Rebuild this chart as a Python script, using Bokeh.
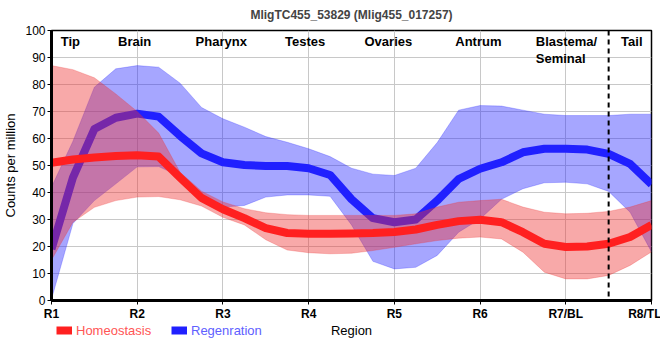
import numpy as np
from bokeh.plotting import figure
from bokeh.layouts import column
from bokeh.models import FixedTicker, Legend, LegendItem, Span, Range1d, Label
from bokeh.core.properties import value
from bokeh.embed import file_html
from bokeh.resources import INLINE

categories = ["R1", "R2", "R3", "R4", "R5", "R6", "R7/BL", "R8/TL"]
region_names = ["Tip", "Brain", "Pharynx", "Testes", "Ovaries", "Antrum", "Tail"]
region_x = [0.22, 0.97, 1.98, 2.96, 3.93, 4.98, 6.77]
region_multi = ["Blastema/\nSeminal"]
region_multi_x = [5.65]
boundary_x = 6.5

homeo_mean = [51, 52.2, 53, 53.5, 53.8, 53.3, 45.5, 38, 33.8, 30.5, 26.8, 25, 24.7, 24.7,
              24.8, 25, 25.4, 26.3, 28, 29.4, 29.9, 29, 25.3, 21, 19.8, 20, 21, 23.5, 28]
homeo_upper = [87, 85.5, 82.5, 76.5, 70, 62, 47.5, 40.5, 36.5, 34, 32.5, 31.8, 31.5, 31.5,
               31.5, 31.5, 31.5, 32.1, 34.6, 36.4, 37, 37.5, 34.6, 32.7, 32.1, 32.3, 33, 34.6, 37]
homeo_lower = [15, 29, 34.5, 37, 38.3, 38.5, 37.3, 35, 30.8, 28, 22.5, 18.7, 17.7, 17.3,
               17.5, 18.5, 19.7, 21, 22.2, 23.1, 23.5, 22.8, 17.9, 10.5, 8, 8, 9.3, 13, 18]

regen_mean = [19, 45.5, 63.5, 67.7, 69.2, 68.1, 61, 54.5, 51.2, 50.2, 49.8, 49.8, 49, 46.5,
              37.5, 30.5, 29, 30, 37, 45, 48.8, 51.2, 54.9, 56.2, 56.2, 55.9, 54.3, 50.6, 43]
regen_upper = [42, 59, 79, 85.8, 87, 86.4, 80.5, 71.5, 67.3, 64.2, 60.7, 58.6, 56.2, 53.3,
               49, 46.8, 46.3, 49, 58.5, 70.5, 72.2, 72, 70.5, 69, 68.5, 68.5, 68.5, 69, 69]
regen_lower = [0.5, 28.5, 37, 43.2, 49.5, 49.6, 46, 37, 34.6, 35.2, 38.3, 39.1, 39.1, 38.6,
               28, 14.5, 11.7, 12.3, 16.7, 25.3, 30.2, 37.5, 41.4, 43.6, 43.8, 43.2, 40.4, 32.7, 18]

series_names = ["Homeostasis", "Regenration"]

x = np.linspace(0, len(categories) - 1, len(homeo_mean))

FONT = "Liberation Sans"
RED = "#ff2020"
BLUE = "#2020ff"
RED_BAND = "#ee3333"

p = figure(frame_width=600, frame_height=270, output_backend="svg", toolbar_location=None,
           x_range=Range1d(0, len(categories) - 1), y_range=Range1d(0, 100),
           min_border_left=42, min_border_right=10, min_border_top=22, min_border_bottom=20,
           title="MligTC455_53829 (Mlig455_017257)")

p.title.text_font = FONT
p.title.text_font_size = "12px"
p.title.text_font_style = "bold"
p.title.align = "center"
p.title.offset = -20
p.title.standoff = 14
p.title.vertical_align = "top"

# bands and lines
p.varea(x=x, y1=regen_lower, y2=regen_upper, fill_color=BLUE, fill_alpha=0.4)
p.line(x, regen_upper, line_color=BLUE, line_alpha=0.25, line_width=1)
p.line(x, regen_lower, line_color=BLUE, line_alpha=0.25, line_width=1)
p.line(x, regen_mean, line_color=BLUE, line_width=8, line_join="round")

p.varea(x=x, y1=homeo_lower, y2=homeo_upper, fill_color=RED_BAND, fill_alpha=0.42)
p.line(x, homeo_upper, line_color=RED_BAND, line_alpha=0.25, line_width=1)
p.line(x, homeo_lower, line_color=RED_BAND, line_alpha=0.25, line_width=1)
p.line(x, homeo_mean, line_color=RED, line_width=8, line_join="round")

p.add_layout(Span(location=boundary_x, dimension="height", line_color="black",
                  line_width=2, line_dash="5 4"))

p.text(x=region_x, y=[98.7] * len(region_x), text=region_names, text_font=value(FONT),
       text_font_style="bold", text_font_size="13px", text_align="center",
       text_baseline="top", text_color="black")
p.text(x=region_multi_x, y=[98.7], text=region_multi, text_font=value(FONT),
       text_font_style="bold", text_font_size="13px", text_align="left",
       text_baseline="top", text_color="black", text_line_height=1.15)

# axes
p.xaxis.ticker = FixedTicker(ticks=list(range(len(categories))))
p.xaxis.major_label_overrides = {i: c for i, c in enumerate(categories)}
p.yaxis.ticker = FixedTicker(ticks=list(range(0, 101, 10)))
p.yaxis.axis_label = "Counts per million"
for ax in (p.xaxis[0], p.yaxis[0]):
    ax.axis_line_color = "black"
    ax.axis_line_width = 3
    ax.major_tick_line_color = "black"
    ax.major_tick_out = 4
    ax.major_tick_in = 0
    ax.minor_tick_line_color = None
    ax.major_label_text_font = FONT
    ax.major_label_text_font_size = "12px"
    ax.major_label_text_color = "black"
    ax.axis_label_text_font = FONT
    ax.axis_label_text_font_size = "13px"
    ax.axis_label_text_font_style = "normal"
    ax.axis_label_text_color = "black"
    ax.major_label_standoff = 2
    ax.axis_label_standoff = 4
p.xaxis.major_label_text_font_style = "bold"

p.grid.grid_line_color = "#c8c8c8"
p.grid.grid_line_width = 1
p.outline_line_color = "black"
p.outline_line_width = 1.5
p.background_fill_color = "white"
p.border_fill_color = "white"

# ---- bottom strip: legend + x-axis title (frame aligned with main frame) ----
p2 = figure(width=652, height=26, output_backend="svg", toolbar_location=None,
            x_range=Range1d(0, 1), y_range=Range1d(0, 1), min_border=0,
            x_axis_location=None, y_axis_location=None, outline_line_color=None)
p2.grid.visible = False
lh = p2.line([-5, -4], [-5, -5], line_color=RED, line_width=8)
lr = p2.line([-5, -4], [-5, -5], line_color=BLUE, line_width=8)

def make_legend(label, rend, color, loc):
    lg = Legend(items=[LegendItem(label=label, renderers=[rend])], location=loc,
                orientation="horizontal", label_text_color=color, label_text_font=FONT,
                label_text_font_size="13px", glyph_width=16, glyph_height=10,
                label_height=16, label_standoff=4, padding=0, margin=0, spacing=0,
                background_fill_alpha=0, border_line_alpha=0)
    p2.add_layout(lg)

make_legend(series_names[0], lh, "#ff5555", (5, 11))
make_legend(series_names[1], lr, "#6060ff", (120, 11))
p2.add_layout(Label(x=300, y=19, x_units="screen", y_units="screen", text="Region",
                    text_align="center", text_baseline="middle", text_font=FONT,
                    text_font_size="13px", text_color="black"))

layout = column(p, p2, spacing=0)
open("out.html", "w").write(file_html(layout, INLINE))
